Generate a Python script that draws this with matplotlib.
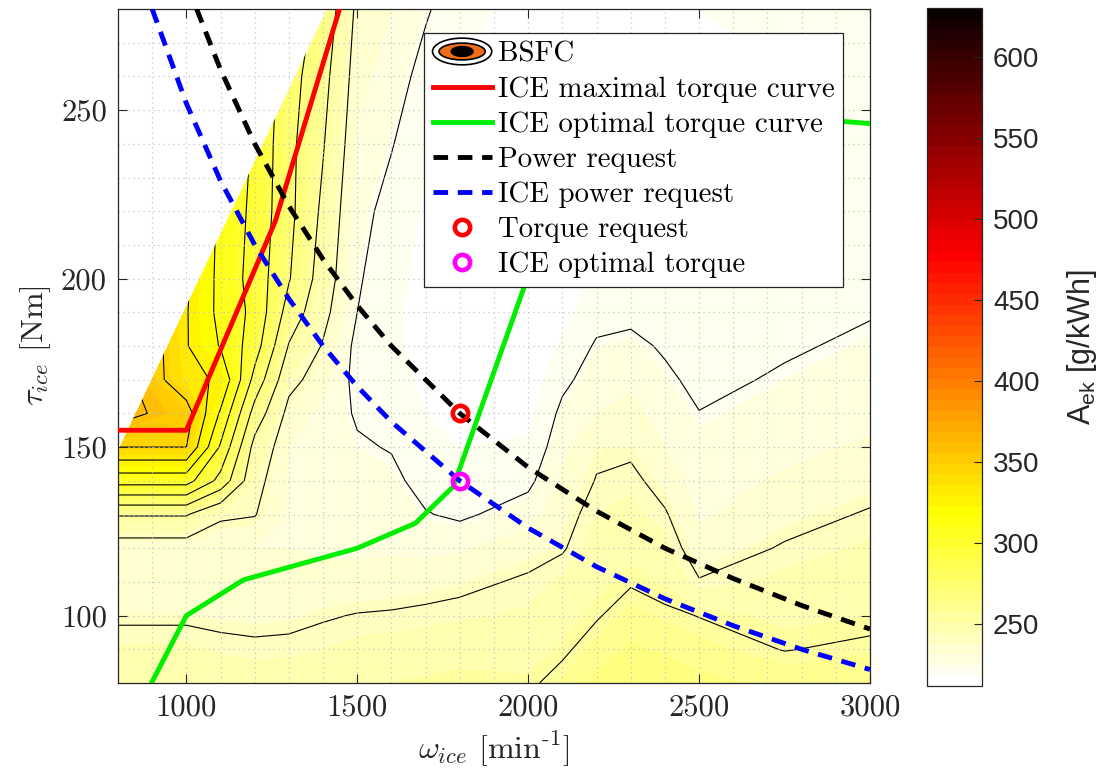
import numpy as np
import matplotlib
matplotlib.use("Agg")
import matplotlib.pyplot as plt
import matplotlib.colors as mcolors
import matplotlib.cm as cm
from matplotlib.patches import Ellipse, Polygon, Patch
from matplotlib.legend_handler import HandlerBase

plt.rcParams['mathtext.fontset'] = 'custom'
plt.rcParams['mathtext.rm'] = 'Liberation Sans'
plt.rcParams['mathtext.it'] = 'Liberation Sans:italic'

# BSFC map [g/kWh], one list per engine speed, torque rows below
speed_grid = [800, 1000, 1100, 1200, 1300, 1400, 1500, 1600, 1700,
              1800, 2000, 2100, 2200, 2300, 2400, 2500, 2750, 3000]
torque_grid = [80, 90, 100, 110, 120, 130, 140, 150, 160, 170, 180, 190,
               200, 220, 240, 260, 280]

bsfc_800 = [251, 245, 238, 234, 233, 256, 306, 345, 366, 368, 372, 376, 380, 385, 390, 395, 400]
bsfc_1000 = [251, 245, 238, 234, 233, 256, 306, 345, 352, 334, 331, 331, 332, 334, 336, 338, 340]
bsfc_1100 = [249, 243, 237, 233, 232, 242, 280, 298, 313, 328, 314, 311, 311, 312, 313, 314, 315]
bsfc_1200 = [248, 242, 236.5, 233, 232, 240.5, 244, 250, 264, 280, 292, 296, 294, 296, 298, 300, 302]
bsfc_1300 = [248, 242.5, 237, 234, 232, 231, 231, 232, 236, 244, 254, 264, 271, 274, 274, 276, 278]
bsfc_1400 = [249, 244, 239, 234, 231, 229, 228, 228, 230, 234, 239, 244, 248, 252, 256, 260, 266]
bsfc_1500 = [251, 246, 240.5, 234, 231, 229, 227, 226, 224, 222, 222, 225, 226, 228, 231, 234, 237]
bsfc_1600 = [252, 247, 241, 235, 231, 229, 227, 224.5, 222, 220, 219, 219, 220, 222, 225.5, 229, 232]
bsfc_1700 = [253, 248, 242, 236, 230, 225.5, 222, 220, 218, 217, 216, 216, 216, 217, 219, 222, 226]
bsfc_1800 = [254, 249, 243, 237.5, 231, 223.5, 220, 218, 216, 215, 214, 214, 214, 215, 216, 218, 220]
bsfc_2000 = [253, 249, 245, 241.5, 236, 229, 223, 219, 216, 214, 213, 213, 213, 213, 214, 215, 216]
bsfc_2100 = [259, 253, 249, 245, 239, 236, 233, 230, 227, 223, 219, 216, 215, 214, 214, 215, 216]
bsfc_2200 = [266, 260, 254, 250, 247, 244, 240.5, 238, 232, 229, 226, 222, 219, 216, 215, 215, 216]
bsfc_2300 = [270, 265, 260, 254, 250, 246, 242.5, 238, 234, 230.5, 227, 223, 220, 217, 216, 216, 216]
bsfc_2400 = [268, 263, 257, 251, 246, 241, 236, 232, 229, 226.5, 224, 221, 219, 217, 216, 216, 217]
bsfc_2500 = [266, 260, 254.7, 240.8, 234, 231, 229, 227, 225.2, 223, 221, 220, 219, 218, 217, 217, 218]
bsfc_2750 = [262, 254.6, 250, 246, 241, 236, 233, 230, 228, 226, 224, 222, 220.5, 219, 218, 218, 219]
bsfc_3000 = [263, 257, 252, 249, 245, 241, 236, 233, 230, 228, 226.5, 224.5, 223, 221, 220, 220, 220]

# upper edge of the measured map
edge_speed = [800, 1411]
edge_torque = [149, 280]

line_levels = [225, 240, 255, 270, 285, 300, 315, 330, 345, 360, 375]

max_speed = [800, 1000, 1260, 1460]
max_torque = [155, 155, 217, 284]

opt_speed = [900, 1000, 1167, 1500, 1670, 1781, 1888, 1990, 2100, 2500, 3000]
opt_torque = [80.4, 100, 110.6, 120, 127.4, 138.3, 168.9, 198, 235, 250, 246]

req_speed = [1030, 1100, 1200, 1300, 1400, 1500, 1600, 1800, 2000, 2200, 2400, 2600, 2800, 3000]
req_torque = [280, 262, 240, 221.5, 205.7, 192, 180, 160, 144, 131, 120, 111, 103, 96]

ice_speed = [900, 1000, 1100, 1200, 1300, 1400, 1500, 1600, 1800, 2000, 2200, 2400, 2600, 2800, 3000]
ice_torque = [280, 252, 229, 210, 194, 180, 168, 157.5, 140, 126, 114.5, 105, 97, 90, 84]

point_speed = 1800
point_req = 160
point_opt = 140

cb_ticks = [250, 300, 350, 400, 450, 500, 550, 600]


class HandlerBSFC(HandlerBase):
    def create_artists(self, legend, orig_handle, xdescent, ydescent,
                       width, height, fontsize, trans):
        cx = width / 2 - xdescent
        cy = height / 2 - ydescent
        e1 = Ellipse((cx, cy), width, height * 1.32, fc='white', ec='black',
                     lw=1.2, transform=trans)
        e2 = Ellipse((cx, cy), width * 0.78, height * 0.83, fc='#ef6c1a',
                     ec='black', lw=1.2, transform=trans)
        e3 = Ellipse((cx, cy), width * 0.37, height * 0.49, fc='black',
                     ec='black', transform=trans)
        return [e1, e2, e3]


fig = plt.figure(figsize=(11.08, 7.78), dpi=100)
ax = fig.add_axes([118 / 1108, 95 / 778, 752 / 1108, 674 / 778])
cax = fig.add_axes([927 / 1108, 92 / 778, 55 / 1108, 678 / 778])

Z = np.column_stack([bsfc_800, bsfc_1000, bsfc_1100, bsfc_1200, bsfc_1300,
                     bsfc_1400, bsfc_1500, bsfc_1600, bsfc_1700, bsfc_1800,
                     bsfc_2000, bsfc_2100, bsfc_2200, bsfc_2300, bsfc_2400,
                     bsfc_2500, bsfc_2750, bsfc_3000])

cmap = plt.get_cmap('hot_r', 64)
norm = mcolors.Normalize(212, 630)

cf = ax.contourf(speed_grid, torque_grid, Z, levels=np.arange(210, 422, 2),
                 cmap=cmap, norm=norm, zorder=0.5)
cl = ax.contour(speed_grid, torque_grid, Z, levels=line_levels, colors='k',
                linewidths=0.8, zorder=0.6)

clip_x = [speed_grid[0], speed_grid[-1], speed_grid[-1], edge_speed[1], edge_speed[0]]
clip_y = [torque_grid[0], torque_grid[0], torque_grid[-1], edge_torque[1], edge_torque[0]]
clip = Polygon(np.column_stack([clip_x, clip_y]), closed=True, transform=ax.transData)
cf.set_clip_path(clip)
cl.set_clip_path(clip)

lw = 3.5
ax.plot(max_speed, max_torque, color='red', lw=lw, zorder=3)
ax.plot(opt_speed, opt_torque, color='#00ee00', lw=lw, zorder=3)
ax.plot(req_speed, req_torque, color='black', lw=lw, dashes=(3, 2), zorder=3)
ax.plot(ice_speed, ice_torque, color='blue', lw=lw, dashes=(3, 2), zorder=3)
ax.plot(point_speed, point_req, 'o', mfc='none', mec='red', mew=3.3, ms=11, zorder=4)
ax.plot(point_speed, point_opt, 'o', mfc='none', mec='magenta', mew=3.3, ms=11, zorder=4)

ax.set_xlim(800, 3000)
ax.set_ylim(80, 280)
xt = [1000, 1500, 2000, 2500, 3000]
yt = [100, 150, 200, 250]
ax.set_xticks(xt, [str(v) for v in xt], family='cmr10', fontsize=22)
ax.set_yticks(yt, [str(v) for v in yt], family='cmr10', fontsize=22)
ax.set_xticks(np.arange(800, 3001, 100), minor=True)
ax.set_yticks(np.arange(80, 281, 10), minor=True)
ax.tick_params(which='major', direction='in', length=6.5, width=0.8,
               top=True, right=True, colors='#262626', pad=8)
ax.tick_params(which='minor', length=0)
ax.grid(True, which='both', color='#c4c4c4', linestyle=(0, (1, 3)), linewidth=0.9)
ax.set_axisbelow('line')
for s in ax.spines.values():
    s.set_color('#262626')
    s.set_linewidth(0.9)

ax.set_xlabel(r'$\omega_{ice}$ [min$^{\text{-1}}$]', family='cmr10',
              math_fontfamily='cm', fontsize=23, color='#262626', labelpad=6)
ax.set_ylabel(r'$\tau_{ice}$ [Nm]', family='cmr10', math_fontfamily='cm',
              fontsize=23, color='#262626', labelpad=6)

bsfc_handle = Patch()
handles = [bsfc_handle] + ax.get_lines()[:6]
labels = ['BSFC', 'ICE maximal torque curve', 'ICE optimal torque curve',
          'Power request', 'ICE power request', 'Torque request',
          'ICE optimal torque']
leg = ax.legend(handles, labels, loc='upper right', bbox_to_anchor=(0.964, 0.965),
                borderaxespad=0, prop={'family': 'cmr10', 'size': 20.8},
                handler_map={bsfc_handle: HandlerBSFC()}, fancybox=False,
                framealpha=1, edgecolor='#262626', handlelength=2.05,
                handletextpad=0.2, labelspacing=0.3, borderpad=0.3,
                numpoints=1)
leg.get_frame().set_linewidth(0.9)
leg.set_zorder(10)

cb = fig.colorbar(cm.ScalarMappable(norm=norm, cmap=cmap), cax=cax)
cb.set_ticks(cb_ticks, labels=[str(v) for v in cb_ticks],
             family='Liberation Sans', fontsize=20)
cb.ax.tick_params(direction='in', length=6, width=0.8, colors='#262626', pad=8)
cb.outline.set_edgecolor('#262626')
cb.outline.set_linewidth(0.9)
cb.set_label(r'A$_{\mathrm{ek}}$ [g/kWh]', family='Liberation Sans', fontsize=22,
             color='#262626', labelpad=18)

fig.savefig('out.png', dpi=100)
